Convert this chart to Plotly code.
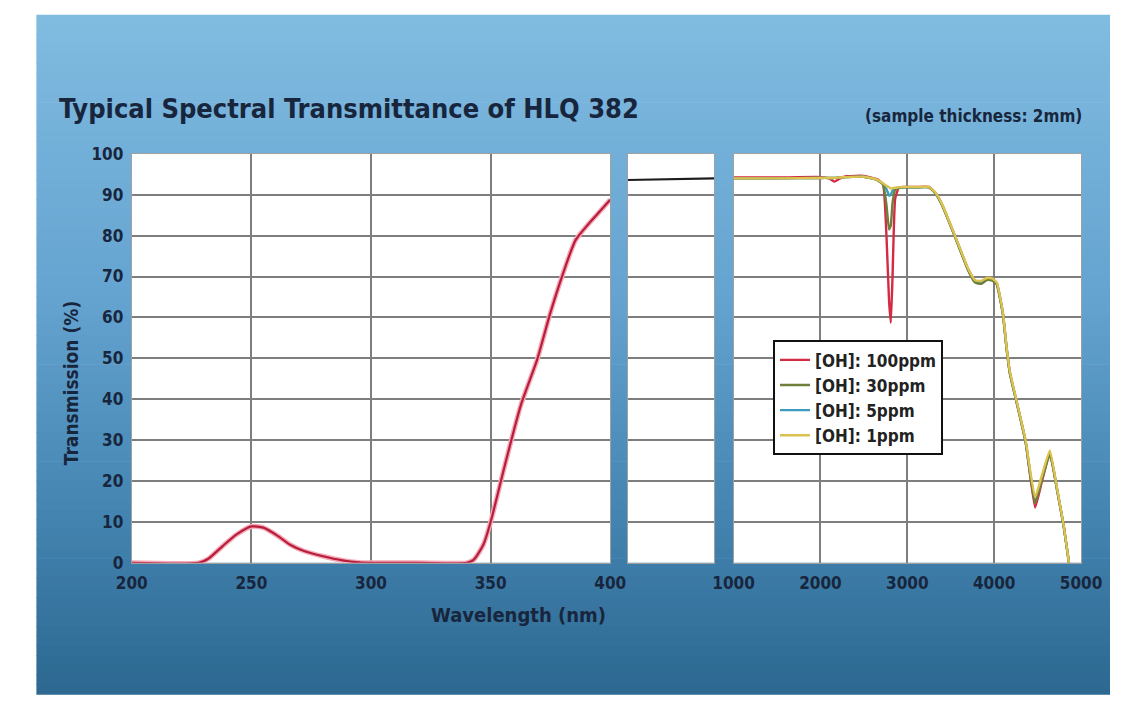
import plotly.graph_objects as go

W, H = 1131, 704

# ---------------- data ----------------
uv_wl = [200, 228, 232, 238, 244, 250, 255, 261, 266, 272, 280, 288, 295, 300,
         320, 340, 343, 347, 350, 356, 362.6, 369.4, 374.8, 380, 385.5, 391, 395, 400]
uv_t = [0, 0, 1.0, 4.1, 7.0, 8.9, 8.6, 6.6, 4.5, 2.9, 1.6, 0.6, 0.1, 0,
        0, 0, 0.8, 4.5, 10.0, 24.0, 38.5, 49.6, 60.8, 70.3, 78.9, 82.9, 85.5, 88.8]

vis_wl = [400, 600, 800, 1000]
vis_t = [93.6, 93.7, 93.9, 94.0]

ir_wl = [1000, 1500, 2000, 2100, 2160, 2220, 2300, 2500, 2650, 2720, 2760, 2790, 2810,
         2830, 2860, 2900, 2950, 3100, 3250, 3320, 3400, 3550, 3700, 3780, 3850, 3920,
         3980, 4030, 4100, 4140, 4180, 4250, 4360, 4470, 4550, 4640, 4730, 4800, 4860]
oh_100 = [94.2, 94.2, 94.3, 94.0, 93.2, 93.9, 94.5, 94.6, 93.8, 92.6, 80.0, 64.0, 58.7,
          70.0, 89.0, 91.6, 91.9, 91.9, 91.9, 90.5, 87.6, 79.8, 71.8, 69.0, 68.6, 69.5,
          69.3, 68.3, 61.0, 53.0, 46.5, 40.1, 29.9, 13.5, 20.0, 26.9, 17.2, 9.0, 0]
oh_30 = [94.0, 94.0, 94.1, 94.1, 94.1, 94.2, 94.3, 94.4, 93.6, 92.5, 87.5, 81.5, 82.5,
         88.0, 91.2, 91.6, 91.8, 91.8, 91.8, 90.4, 87.4, 79.6, 71.5, 68.5, 68.2, 69.2,
         69.0, 68.0, 60.7, 52.8, 46.3, 39.9, 29.6, 14.5, 20.5, 26.5, 17.0, 8.8, 0]
oh_5 = [94.0, 94.0, 94.1, 94.1, 94.1, 94.2, 94.3, 94.4, 93.6, 92.6, 91.4, 89.8, 90.0,
        91.0, 91.5, 91.7, 91.8, 91.8, 91.8, 90.5, 87.5, 79.7, 71.6, 68.8, 68.5, 69.4,
        69.2, 68.2, 60.9, 53.0, 46.5, 40.0, 29.8, 15.0, 20.8, 27.0, 17.1, 8.9, 0]
oh_1 = [94.0, 94.0, 94.1, 94.1, 94.1, 94.2, 94.3, 94.4, 93.7, 92.8, 92.2, 91.8, 91.5,
        91.6, 91.7, 91.8, 91.9, 91.9, 91.9, 90.6, 87.7, 79.9, 71.9, 69.1, 68.9, 69.7,
        69.5, 68.5, 61.2, 53.2, 46.8, 40.3, 30.1, 16.0, 21.5, 27.5, 17.4, 9.1, 0]

series = [
    ("[OH]: 100ppm", oh_100, "#d42a44", 1),
    ("[OH]: 5ppm", oh_5, "#3b9cc0", 3),
    ("[OH]: 30ppm", oh_30, "#6e7f3c", 2),
    ("[OH]: 1ppm", oh_1, "#dcc24e", 4),
]

y_ticks = [0, 10, 20, 30, 40, 50, 60, 70, 80, 90, 100]
x1_ticks = [200, 250, 300, 350, 400]
x3_ticks = [1000, 2000, 3000, 4000, 5000]

# ---------------- style ----------------
FONT = ("Noto Sans Condensed, DejaVu Sans Condensed, Liberation Sans Narrow, "
        "Roboto Condensed, sans-serif")
NAVY = "#18263d"
GRID = "#7e7e7e"


def px_x(p):
    return p / W


def px_y(p):
    return 1 - p / H


fig = go.Figure()

fig.add_trace(go.Scatter(x=uv_wl, y=uv_t, mode="lines", xaxis="x", yaxis="y",
                         line=dict(color="#f3a9b8", width=5, shape="spline", smoothing=0.6),
                         showlegend=False, hoverinfo="skip"))
fig.add_trace(go.Scatter(x=uv_wl, y=uv_t, mode="lines", xaxis="x", yaxis="y",
                         line=dict(color="#b81d3a", width=2.2, shape="spline", smoothing=0.6),
                         showlegend=False))
fig.add_trace(go.Scatter(x=vis_wl, y=vis_t, mode="lines", xaxis="x2", yaxis="y2",
                         line=dict(color="#1d1d1d", width=2.2), showlegend=False))

for name, vals, color, rank in series:
    fig.add_trace(go.Scatter(x=ir_wl, y=vals, mode="lines", name=name, xaxis="x3", yaxis="y3",
                             legendrank=rank,
                             line=dict(color=color, width=2.4, shape="spline", smoothing=0.4)))

dom1 = [px_x(115), px_x(612)]
dom2 = [px_x(630), px_x(720)]
dom3 = [px_x(740), px_x(1101)]
ydom = [px_y(569), px_y(148)]

TICKFONT = dict(family=FONT, size=17, color=NAVY, weight="bold")
axis_common = dict(showgrid=True, gridcolor=GRID, gridwidth=2, zeroline=False,
                   showline=True, linecolor="#a0a0a0", linewidth=1, mirror=True,
                   ticks="", tickfont=TICKFONT)

fig.update_layout(
    width=W, height=H,
    margin=dict(l=0, r=0, t=0, b=0),
    paper_bgcolor="white",
    plot_bgcolor="white",
    font=dict(family=FONT, color=NAVY),
    xaxis=dict(domain=dom1, range=[200, 400], tickvals=x1_ticks, anchor="y",
               ticklabelstandoff=5, **axis_common),
    xaxis2=dict(domain=dom2, range=[400, 1000], tickvals=[], anchor="y2",
                showticklabels=False, **axis_common),
    xaxis3=dict(domain=dom3, range=[1000, 5000], tickvals=x3_ticks, anchor="y3",
                ticklabelstandoff=5, **axis_common),
    yaxis=dict(domain=ydom, range=[0, 100], tickvals=y_ticks, anchor="x",
               ticklabelstandoff=4, **axis_common),
    yaxis2=dict(domain=ydom, range=[0, 100], tickvals=y_ticks, anchor="x2",
                showticklabels=False, **axis_common),
    yaxis3=dict(domain=ydom, range=[0, 100], tickvals=y_ticks, anchor="x3",
                showticklabels=False, **axis_common),
    legend=dict(x=px_x(781), y=px_y(340), xanchor="left", yanchor="top",
                bgcolor="white", bordercolor="#111111", borderwidth=2,
                font=dict(family=FONT, size=17, color="#222222", weight="bold"),
                tracegroupgap=0, itemwidth=30),
)

# background gradient
stops = [(5, (128, 187, 224)), (300, (100, 163, 208)), (500, (70, 135, 180)),
         (704, (44, 104, 144))]
shapes = []
n = 70
for i in range(n):
    y0 = 5 + (H - 5) * i / n
    y1 = 5 + (H - 5) * (i + 1) / n
    ym = (y0 + y1) / 2
    for (a, ca), (b, cb) in zip(stops[:-1], stops[1:]):
        if a <= ym <= b:
            t = (ym - a) / (b - a)
            c = tuple(int(round(ca[k] + (cb[k] - ca[k]) * t)) for k in range(3))
            break
    shapes.append(dict(type="rect", xref="paper", yref="paper", layer="below",
                       x0=px_x(16), x1=1, y0=px_y(y1) - 0.001, y1=px_y(y0),
                       fillcolor="rgb(%d,%d,%d)" % c, line=dict(width=0)))
for d in (dom1, dom2, dom3):
    shapes.append(dict(type="rect", xref="paper", yref="paper", layer="below",
                       x0=d[0], x1=d[1], y0=ydom[0], y1=ydom[1],
                       fillcolor="white", line=dict(width=0)))
fig.update_layout(shapes=shapes)

fig.add_annotation(text="<b>Typical Spectral Transmittance of HLQ 382</b>",
                   x=px_x(37), y=px_y(101), xref="paper", yref="paper",
                   xanchor="left", yanchor="middle", showarrow=False,
                   font=dict(family=FONT, size=27, color=NAVY))
fig.add_annotation(text="<b>(sample thickness: 2mm)</b>",
                   x=px_x(1104), y=px_y(109), xref="paper", yref="paper",
                   xanchor="right", yanchor="middle", showarrow=False,
                   font=dict(family=FONT, size=17, color=NAVY))
fig.add_annotation(text="<b>Transmission (%)</b>",
                   x=px_x(52), y=px_y(384), xref="paper", yref="paper",
                   xanchor="center", yanchor="middle", showarrow=False, textangle=-90,
                   font=dict(family=FONT, size=19, color=NAVY))
fig.add_annotation(text="<b>Wavelength (nm)</b>",
                   x=px_x(517), y=px_y(623), xref="paper", yref="paper",
                   xanchor="center", yanchor="middle", showarrow=False,
                   font=dict(family=FONT, size=20, color=NAVY))

fig.write_html("out.html", config={"displayModeBar": False},
               post_script="document.body.style.margin='0';document.body.style.padding='0';")
